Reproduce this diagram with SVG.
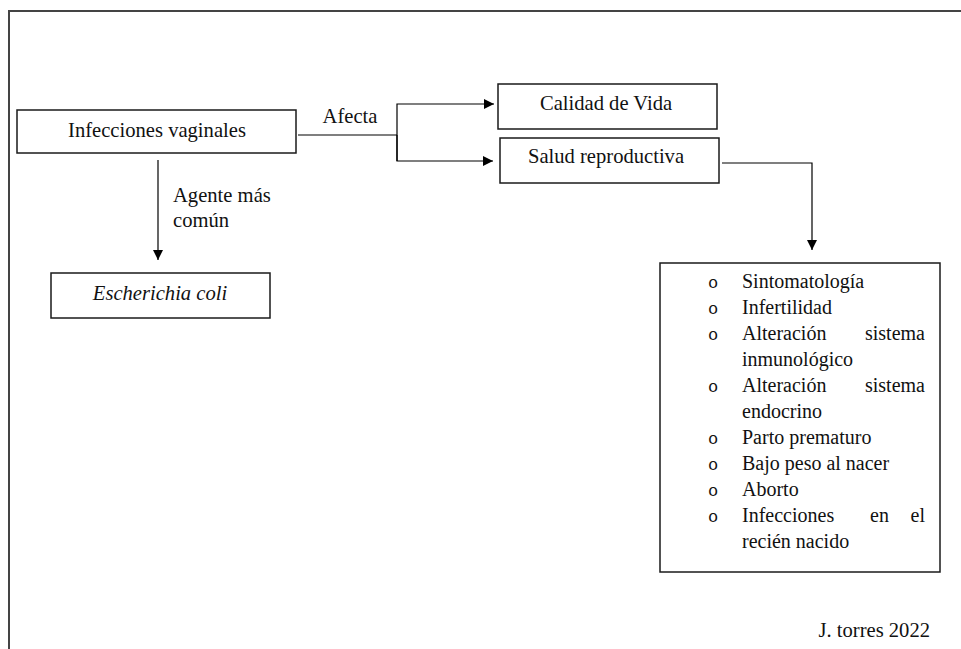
<svg xmlns="http://www.w3.org/2000/svg" width="961" height="649" viewBox="0 0 961 649">
  <defs>
    <marker id="arrow" viewBox="0 0 10 10" refX="10" refY="5" markerWidth="10" markerHeight="10" markerUnits="userSpaceOnUse" orient="auto">
      <path d="M0,0 L10,5 L0,10 Z" fill="#000"/>
    </marker>
    <style>
      .box { fill: #fff; stroke: #1a1a1a; stroke-width: 1.5; }
      .frame { fill: none; stroke: #444; stroke-width: 2; }
      .conn { fill: none; stroke: #000; stroke-width: 1.2; }
      text { font-family: 'Liberation Serif', Tinos, 'Times New Roman', 'Noto Serif', 'DejaVu Serif', serif; font-size: 20.6px; fill: #111; }
      .mid { text-anchor: middle; }
      .end { text-anchor: end; }
      .it { font-style: italic; }
      .li { font-size: 20px; }
      .bul { font-family: 'Liberation Mono', 'Courier New', monospace; font-size: 17px; text-anchor: middle; }
    </style>
  </defs>
  <rect width="961" height="649" fill="#fff"/>

  <!-- page frame -->
  <path class="frame" d="M9,649 V11 H961"/>

  <!-- connectors -->
  <g id="connectors">
    <line class="conn" x1="158" y1="160" x2="158" y2="260" marker-end="url(#arrow)"/>
    <polyline class="conn" points="298,135 397,135"/>
    <polyline class="conn" points="397,161 397,104 494,104" marker-end="url(#arrow)"/>
    <polyline class="conn" points="397,135 397,161 493,161" marker-end="url(#arrow)"/>
    <polyline class="conn" points="722,163 812,163 812,250" marker-end="url(#arrow)"/>
    <text x="350" y="123" class="mid">Afecta</text>
    <text x="173" y="202">Agente más</text>
    <text x="173" y="227">común</text>
  </g>

  <g id="infecciones">
    <rect class="box" x="17" y="110" width="279" height="43"/>
    <text x="157" y="137" class="mid">Infecciones vaginales</text>
  </g>

  <g id="ecoli">
    <rect class="box" x="51" y="273" width="219" height="45"/>
    <text x="160" y="300" class="mid it">Escherichia coli</text>
  </g>

  <g id="calidad">
    <rect class="box" x="498" y="84" width="219" height="45"/>
    <text x="606" y="110" class="mid">Calidad de Vida</text>
  </g>

  <g id="salud">
    <rect class="box" x="500" y="138" width="219" height="45"/>
    <text x="606" y="163" class="mid">Salud reproductiva</text>
  </g>

  <g id="consecuencias">
    <rect class="box" x="660" y="263" width="280" height="309"/>
    <text class="bul" x="713" y="288">o</text>
    <text class="li" x="742" y="288">Sintomatología</text>
    <text class="bul" x="713" y="314">o</text>
    <text class="li" x="742" y="314">Infertilidad</text>
    <text class="bul" x="713" y="340">o</text>
    <text class="li" x="742" y="340">Alteración</text>
    <text class="li end" x="925" y="340">sistema</text>
    <text class="li" x="742" y="366">inmunológico</text>
    <text class="bul" x="713" y="392">o</text>
    <text class="li" x="742" y="392">Alteración</text>
    <text class="li end" x="925" y="392">sistema</text>
    <text class="li" x="742" y="418">endocrino</text>
    <text class="bul" x="713" y="444">o</text>
    <text class="li" x="742" y="444">Parto prematuro</text>
    <text class="bul" x="713" y="470">o</text>
    <text class="li" x="742" y="470">Bajo peso al nacer</text>
    <text class="bul" x="713" y="496">o</text>
    <text class="li" x="742" y="496">Aborto</text>
    <text class="bul" x="713" y="522">o</text>
    <text class="li" x="742" y="522">Infecciones</text>
    <text class="li" x="870" y="522">en</text>
    <text class="li end" x="925" y="522">el</text>
    <text class="li" x="742" y="548">recién nacido</text>
  </g>

  <text x="930" y="637" class="end">J. torres 2022</text>
</svg>
